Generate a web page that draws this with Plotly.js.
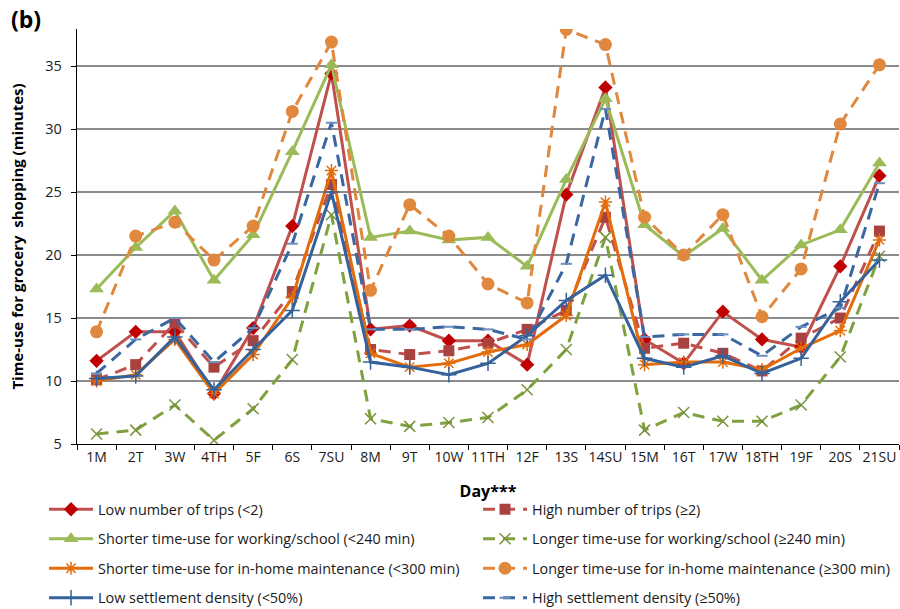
<!DOCTYPE html>
<html>
<head>
<meta charset="utf-8">
<script src="https://cdn.plot.ly/plotly-3.0.1.min.js"></script>
<style>html,body{margin:0;padding:0;background:#fff;}#chart{width:900px;height:609px;}</style>
</head>
<body>
<div id="chart"></div>
<script>
const days = ['1M','2T','3W','4TH','5F','6S','7SU','8M','9T','10W','11TH','12F','13S','14SU','15M','16T','17W','18TH','19F','20S','21SU'];

const lowTrips      = [11.6,13.9,13.9,9.0,14.2,22.3,34.4,14.1,14.4,13.2,13.2,11.3,24.8,33.3,13.3,11.4,15.5,13.3,12.7,19.1,26.3];
const highTrips     = [10.1,11.3,14.6,11.1,13.2,17.1,25.6,12.5,12.1,12.4,13.0,14.1,15.6,23.0,12.6,13.0,12.2,10.8,13.4,15.0,21.9];
const shortWork     = [17.3,20.6,23.5,18.0,21.6,28.2,35.1,21.4,21.9,21.2,21.4,19.1,26.0,32.4,22.4,19.9,22.1,18.0,20.8,22.0,27.3];
const longWork      = [5.8,6.1,8.1,5.3,7.8,11.7,23.2,7.0,6.4,6.7,7.1,9.3,12.5,21.4,6.1,7.5,6.8,6.8,8.1,11.9,19.9];
const shortHome     = [10.0,10.5,13.3,9.0,12.1,16.6,26.7,12.2,11.1,11.4,12.3,12.9,15.2,24.2,11.3,11.5,11.5,10.9,12.6,14.0,21.2];
const longHome      = [13.9,21.5,22.6,19.6,22.3,31.4,36.9,17.2,24.0,21.5,17.7,16.2,37.9,36.7,23.0,20.0,23.2,15.1,18.9,30.4,35.1];
const lowSettle     = [10.2,10.4,13.5,9.3,12.5,15.6,25.0,11.5,11.1,10.5,11.4,13.6,16.4,18.4,11.8,11.1,12.0,10.6,11.8,16.3,19.6];
const highSettle    = [10.6,13.3,15.0,11.5,14.2,20.9,30.5,14.1,14.1,14.3,14.1,13.3,19.3,31.6,13.5,13.7,13.7,12.0,14.3,15.8,25.7];

const names = [
  'Low number of trips (<2)',
  'High number of trips (≥2)',
  'Shorter time-use for working/school (<240 min)',
  'Longer time-use for working/school (≥240 min)',
  'Shorter time-use for in-home maintenance (<300 min)',
  'Longer time-use for in-home maintenance (≥300 min)',
  'Low settlement density (<50%)',
  'High settlement density (≥50%)'
];

const DASH = '12px,8px';
const W = 3;

const traces = [
  {y: lowTrips, name: names[0], legend: 'legend',
   line: {color: '#C0504D', width: W},
   marker: {symbol: 'diamond', size: 11, color: '#C00000'}},
  {y: highTrips, name: names[1], legend: 'legend',
   line: {color: '#C0504D', width: W, dash: DASH},
   marker: {symbol: 'square', size: 11, color: '#A9423F'}},
  {y: shortWork, name: names[2], legend: 'legend2',
   line: {color: '#9BBB59', width: W},
   marker: {symbol: 'triangle-up', size: 13, color: '#9BBB59'}},
  {y: longWork, name: names[3], legend: 'legend2',
   line: {color: '#7FA23F', width: W, dash: DASH},
   marker: {symbol: 'x-thin-open', size: 11, color: '#77933C', line: {width: 1.5, color: '#77933C'}}},
  {y: shortHome, name: names[4], legend: 'legend3',
   line: {color: '#E46C0A', width: W},
   marker: {symbol: 'asterisk-open', size: 11, color: '#E46C0A', line: {width: 1.5, color: '#E46C0A'}}},
  {y: longHome, name: names[5], legend: 'legend3',
   line: {color: '#E0883E', width: W, dash: DASH},
   marker: {symbol: 'circle', size: 13, color: '#E0883E'}},
  {y: lowSettle, name: names[6], legend: 'legend4',
   line: {color: '#35629A', width: W},
   marker: {symbol: 'cross-thin-open', size: 11, color: '#35629A', line: {width: 1.5, color: '#35629A'}}},
  {y: highSettle, name: names[7], legend: 'legend4',
   line: {color: '#3A67A0', width: W, dash: DASH},
   marker: {symbol: 'line-ew-open', size: 8, color: '#6C8FC0', line: {width: 2, color: '#6C8FC0'}}}
].map(t => Object.assign({x: days, type: 'scatter', mode: 'lines+markers'}, t));

const FONT = '"Open Sans", Lato, sans-serif';
const legendBase = {
  orientation: 'h', xanchor: 'left', yanchor: 'top', x: -0.0401,
  entrywidth: 375, entrywidthmode: 'pixels', itemwidth: 44,
  bgcolor: 'rgba(0,0,0,0)', borderwidth: 0,
  font: {family: FONT, size: 14.4, color: '#1a1a1a'}
};

const layout = {
  width: 900, height: 609,
  margin: {l: 77, r: 1, t: 29, b: 165, autoexpand: false},
  paper_bgcolor: '#ffffff', plot_bgcolor: '#ffffff',
  font: {family: FONT, size: 14, color: '#1a1a1a'},
  showlegend: true,
  legend: Object.assign({}, legendBase, {y: -0.1190}),
  legend2: Object.assign({}, legendBase, {y: -0.1901}),
  legend3: Object.assign({}, legendBase, {y: -0.2612}),
  legend4: Object.assign({}, legendBase, {y: -0.3323}),
  xaxis: {
    type: 'category', range: [-0.5, 20.5], tickangle: 0,
    showline: true, linecolor: '#000', linewidth: 1.3,
    ticks: 'outside', ticklen: 5, tickcolor: '#000', tickson: 'boundaries',
    showgrid: false, zeroline: false,
    tickfont: {family: FONT, size: 14, color: '#1a1a1a'},
    title: {text: 'Day***', standoff: 20, font: {family: FONT, size: 16, color: '#000', weight: 'bold'}}
  },
  yaxis: {
    range: [5, 37.94], tickvals: [5,10,15,20,25,30,35],
    showline: true, linecolor: '#000', linewidth: 1.3,
    ticks: 'outside', ticklen: 5, tickcolor: '#000', ticklabelstandoff: 6,
    showgrid: true, gridcolor: '#8c8c8c', gridwidth: 1.5, zeroline: false,
    tickfont: {family: FONT, size: 14.5, color: '#1a1a1a'},
    title: {text: 'Time-use for grocery  shopping (minutes)', standoff: 18, font: {family: FONT, size: 15, color: '#000', weight: 'bold'}}
  },
  annotations: [{
    text: '<b>(b)</b>', xref: 'paper', yref: 'paper', x: -0.083, y: 1.0, xanchor: 'left', yanchor: 'bottom',
    yshift: -8, showarrow: false, font: {family: FONT, size: 23, color: '#000'}
  }]
};

Plotly.newPlot('chart', traces, layout, {displayModeBar: false, staticPlot: true});
</script>
</body>
</html>
